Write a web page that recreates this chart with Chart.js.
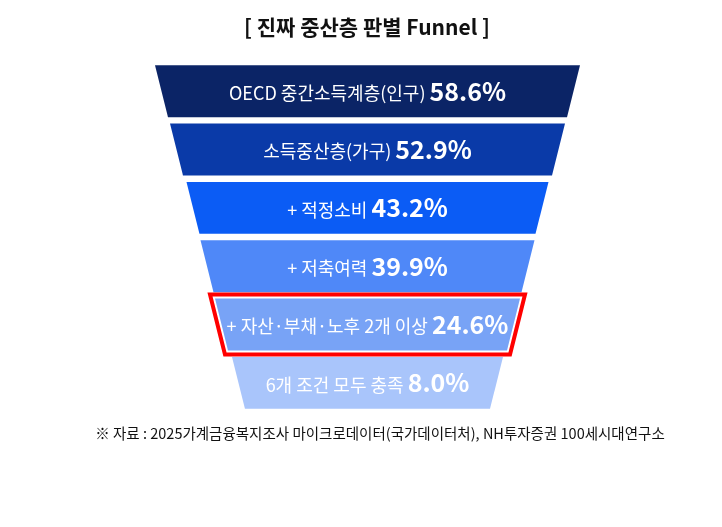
<!DOCTYPE html>
<html><head><meta charset="utf-8">
<script src="https://cdn.jsdelivr.net/npm/chart.js@4"></script>
<style>html,body{margin:0;background:#fff}#wrap{width:722px;height:527px}</style>
</head><body><div id="wrap"><canvas id="funnel"></canvas></div>
<script>
const stages = ['OECD 중간소득계층(인구)', '소득중산층(가구)', '+ 적정소비', '+ 저축여력', '+ 자산·부채·노후 2개 이상', '6개 조건 모두 충족'];
const shares = ['58.6%', '52.9%', '43.2%', '39.9%', '24.6%', '8.0%'];
const funnelWidth = [425, 395, 362, 334, 305, 271];
const colors = ['#0b2466', '#0a3aa8', '#0b5cf5', '#4f88f8', '#78a3f6', '#a9c5fb'];
const highlight = 4;
const font = '"Noto Sans CJK KR", "Noto Sans", sans-serif';

const drawFunnel = {
  id: 'drawFunnel',
  afterDatasetsDraw(chart) {
    const c = chart.ctx;
    const meta = chart.getDatasetMeta(0);
    meta.data.forEach((bar, i) => {
      const l = Math.min(bar.x, bar.base), r = Math.max(bar.x, bar.base);
      const t = bar.y - bar.height / 2, b = bar.y + bar.height / 2;
      const inset = bar.height * 0.25;
      c.save();
      c.beginPath();
      c.moveTo(l, t); c.lineTo(r, t); c.lineTo(r - inset, b); c.lineTo(l + inset, b); c.closePath();
      c.fillStyle = colors[i]; c.fill();
      if (i === highlight) {
        const p = 4, dx = p * 0.25;
        c.beginPath();
        c.moveTo(l - p - dx, t - p); c.lineTo(r + p + dx, t - p);
        c.lineTo(r - inset + p - dx, b + p); c.lineTo(l + inset - p + dx, b + p); c.closePath();
        c.strokeStyle = '#ff0000'; c.lineWidth = 4; c.stroke();
      }
      // label + value
      c.fillStyle = '#fff'; c.textBaseline = 'middle';
      const f1 = '18px ' + font, f2 = 'bold 25px ' + font;
      c.font = f1; const w1 = c.measureText(stages[i] + ' ').width;
      c.font = f2; const w2 = c.measureText(shares[i]).width;
      const cx = (l + r) / 2, x0 = cx - (w1 + w2) / 2;
      c.textAlign = 'left';
      c.font = f1; c.fillText(stages[i] + ' ', x0, bar.y + 2);
      c.font = f2; c.fillText(shares[i], x0 + w1, bar.y);
      c.restore();
    });
    c.save();
    c.fillStyle = '#111'; c.textAlign = 'center'; c.textBaseline = 'middle';
    c.font = 'bold 21px ' + font;
    c.fillText('[ 진짜 중산층 판별 Funnel ]', 367, 27);
    c.font = '14.5px ' + font; c.fillStyle = '#111';
    c.fillText('※ 자료 : 2025가계금융복지조사 마이크로데이터(국가데이터처), NH투자증권 100세시대연구소', 380, 433);
    c.restore();
  }
};

new Chart(document.getElementById('funnel'), {
  type: 'bar',
  data: {
    labels: stages,
    datasets: [{
      data: funnelWidth.map(w => [6.5 - w / 2, 6.5 + w / 2]),
      backgroundColor: 'rgba(0,0,0,0)',
      barPercentage: 0.89,
      categoryPercentage: 1
    }]
  },
  options: {
    indexAxis: 'y',
    responsive: true,
    maintainAspectRatio: false,
    animation: false,
    layout: { padding: { top: 62, bottom: 115, left: 0, right: 0 } },
    plugins: { legend: { display: false }, tooltip: { enabled: false } },
    scales: {
      x: { display: false, min: -361, max: 361 },
      y: { display: false }
    }
  },
  plugins: [drawFunnel]
});
</script></body></html>
